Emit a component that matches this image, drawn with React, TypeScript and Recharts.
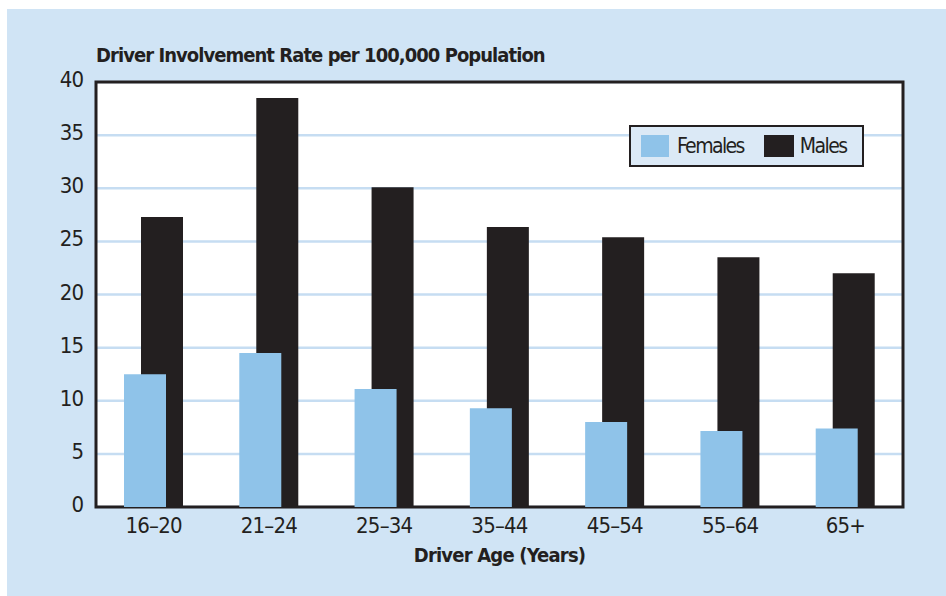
import { BarChart, Bar, XAxis, YAxis, CartesianGrid, Legend, Label, ReferenceArea } from 'recharts';

const ages = ['16–20', '21–24', '25–34', '35–44', '45–54', '55–64', '65+'];
const females = [12.5, 14.5, 11.1, 9.3, 8.0, 7.15, 7.4];
const males = [27.3, 38.5, 30.1, 26.35, 25.4, 23.5, 22.0];
const yTicks = [0, 5, 10, 15, 20, 25, 30, 35, 40];

const data = ages.map((age, i) => ({ age, females: females[i], males: males[i] }));

const FONT = "'Liberation Sans Narrow', 'DejaVu Sans Condensed', 'Roboto Condensed', Arial, sans-serif";
const INK = '#231f20';
const FEMALE = '#8fc3e9';
const PANEL = '#d0e4f5';

function LegendBox() {
  const item = (color: string, text: string, sw: number, gap: number, after: number) => (
    <div style={{ display: 'flex', alignItems: 'center', marginRight: after }}>
      <div style={{ width: sw, height: 22, background: color, marginRight: gap }} />
      <span style={{ letterSpacing: -1.6 }}>{text}</span>
    </div>
  );
  return (
    <div
      style={{
        boxSizing: 'border-box',
        width: 235,
        height: 42,
        border: `2px solid ${INK}`,
        background: '#dbe9f6',
        display: 'flex',
        alignItems: 'center',
        paddingLeft: 10,
        fontFamily: FONT,
        fontSize: 21,
        color: INK,
      }}
    >
      {item(FEMALE, 'Females', 28, 8, 20)}
      {item(INK, 'Males', 30, 6, 0)}
    </div>
  );
}

const YTick = ({ x, y, payload }: any) => (
  <text x={x} y={y} dy={5} textAnchor="end" fill={INK} fontSize={22} letterSpacing={-1} fontFamily={FONT}>
    {payload.value}
  </text>
);

export default function App() {
  return (
    <div style={{ position: 'fixed', left: 0, top: 0, width: 946, height: 596, overflow: 'hidden', background: '#fff' }}>
      <div style={{ position: 'absolute', left: 7, top: 9, width: 939, height: 587, background: PANEL }}>
        <div
          style={{
            position: 'absolute',
            left: 89,
            top: 36,
            fontFamily: FONT,
            fontWeight: 'bold',
            fontSize: 20,
            lineHeight: '20px',
            letterSpacing: -0.95,
            color: INK,
            whiteSpace: 'nowrap',
          }}
        >
          Driver Involvement Rate per 100,000 Population
        </div>
        <BarChart
          width={939}
          height={587}
          data={data}
          margin={{ top: 73, right: 43, bottom: 29, left: 29 }}
          barSize={42}
          barGap={-59}
          style={{ fontFamily: FONT }}
        >
          <CartesianGrid vertical={false} stroke="#c6ddf2" strokeWidth={2.5} fill="#ffffff" />
          <XAxis
            dataKey="age"
            height={60}
            tickSize={0}
            tickMargin={10}
            axisLine={false}
            tick={{ fill: INK, fontSize: 22, letterSpacing: -0.8 }}
          >
            <Label
              value="Driver Age (Years)"
              position="insideBottom"
              offset={5}
              style={{ fill: INK, fontSize: 20, fontWeight: 'bold', letterSpacing: -0.8 }}
            />
          </XAxis>
          <YAxis
            domain={[0, 40]}
            ticks={yTicks}
            width={60}
            tickSize={0}
            tickMargin={13}
            interval={0}
            axisLine={false}
            tick={<YTick />}
          />
          <Legend
            content={() => <LegendBox />}
            layout="horizontal"
            verticalAlign="middle"
            align="center"
            wrapperStyle={{ position: 'absolute', left: 622, top: 116, width: 235, height: 42 }}
          />
          <Bar dataKey="males" name="Males" fill={INK} isAnimationActive={false} />
          <Bar dataKey="females" name="Females" fill={FEMALE} isAnimationActive={false} />
          <ReferenceArea y1={0} y2={40} fill="none" stroke={INK} strokeWidth={3} ifOverflow="visible" />
        </BarChart>
      </div>
    </div>
  );
}
